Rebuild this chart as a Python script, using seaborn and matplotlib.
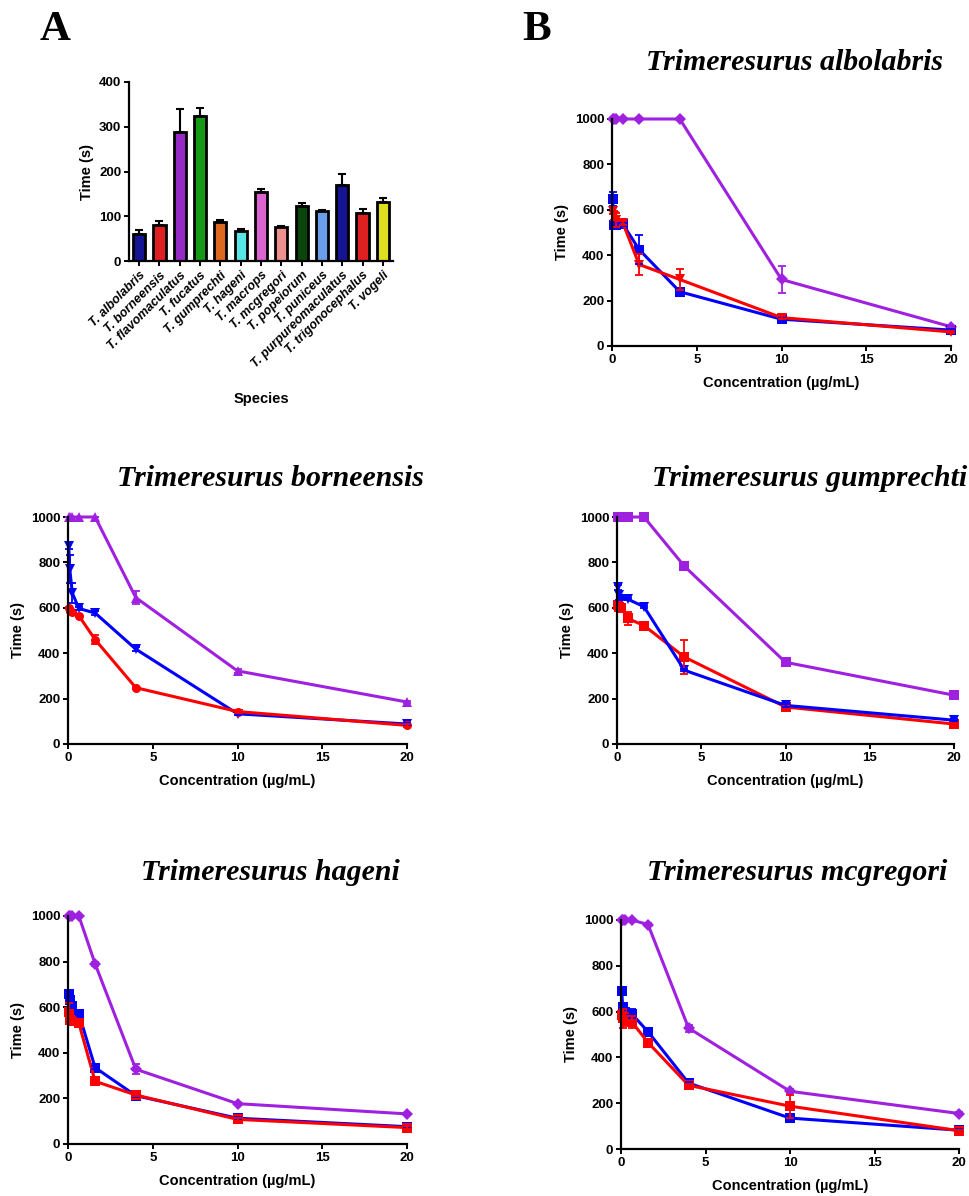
import matplotlib
matplotlib.use("Agg")
import matplotlib.pyplot as plt
import seaborn as sns
import numpy as np
import pandas as pd

# ---- panel A: clotting time per species ----
species = ["T. albolabris", "T. borneensis", "T. flavomaculatus", "T. fucatus",
           "T. gumprechti", "T. hageni", "T. macrops", "T. mcgregori",
           "T. popeiorum", "T. puniceus", "T. purpureomaculatus",
           "T. trigonocephalus", "T. vogeli"]
mean_time = [60, 80, 289, 325, 88, 68, 155, 77, 122, 112, 170, 108, 131]
sem_time = [10, 9, 51, 18, 3, 3, 5, 2, 7, 3, 25, 9, 9]
bar_colors = ["#0000A8", "#FF0000", "#A010E0", "#00B000", "#FF6000", "#40FFFF",
              "#F050E0", "#FF8080", "#005000", "#5599FF", "#0000A8", "#FF0000", "#FFFF00"]

# ---- panel B: concentration-response ----
conc = [0.04096, 0.1024, 0.256, 0.64, 1.6, 4, 10, 20]

alb_purple = [1000, 1000, 1000, 1000, 1000, 1000, 293, 85]
alb_purple_err = [0, 0, 0, 0, 0, 0, 60, 5]
alb_blue = [647, 531, 531, 537, 425, 239, 118, 70]
alb_blue_err = [30, 10, 10, 10, 62, 15, 8, 5]
alb_red = [596, 574, 556, 542, 359, 293, 125, 62]
alb_red_err = [15, 20, 30, 10, 45, 45, 8, 5]

bor_purple = [1000, 1000, 1000, 1000, 1000, 645, 322, 185]
bor_purple_err = [0, 0, 0, 0, 0, 30, 8, 5]
bor_blue = [873, 771, 665, 597, 577, 418, 133, 88]
bor_blue_err = [15, 60, 45, 8, 8, 8, 5, 5]
bor_red = [598, 588, 580, 565, 460, 248, 143, 82]
bor_red_err = [5, 5, 5, 5, 20, 5, 5, 5]

gum_purple = [1000, 1000, 1000, 1000, 1000, 783, 360, 215]
gum_purple_err = [0, 0, 0, 0, 0, 8, 8, 5]
gum_blue = [690, 655, 640, 638, 605, 325, 170, 105]
gum_blue_err = [10, 20, 5, 5, 5, 5, 5, 5]
gum_red = [612, 605, 600, 553, 522, 383, 163, 88]
gum_red_err = [15, 15, 10, 30, 8, 75, 5, 5]

hag_purple = [1000, 1000, 1000, 1000, 790, 328, 177, 132]
hag_purple_err = [0, 0, 0, 0, 8, 22, 5, 5]
hag_blue = [660, 630, 605, 572, 335, 212, 113, 76]
hag_blue_err = [10, 10, 10, 10, 8, 5, 5, 5]
hag_red = [578, 545, 540, 530, 275, 215, 108, 72]
hag_red_err = [40, 20, 15, 15, 8, 5, 5, 5]

mcg_purple = [1000, 1000, 1000, 1000, 980, 528, 252, 155]
mcg_purple_err = [0, 0, 0, 0, 8, 15, 8, 5]
mcg_blue = [690, 620, 600, 590, 512, 288, 135, 82]
mcg_blue_err = [10, 10, 10, 20, 8, 5, 8, 5]
mcg_red = [585, 570, 565, 555, 465, 278, 187, 80]
mcg_red_err = [15, 40, 30, 25, 8, 5, 50, 5]

PURPLE = "#A020E0"
BLUE = "#0000FF"
RED = "#FF0000"

W, H = 969, 1196


def rect(l, r, t, b):
    return [l / W, 1 - b / H, (r - l) / W, (b - t) / H]


sns.set_style("ticks")
plt.rcParams["font.family"] = ["Liberation Sans", "DejaVu Sans"]
plt.rcParams["font.weight"] = "bold"
plt.rcParams["axes.labelweight"] = "bold"
plt.rcParams["axes.linewidth"] = 1.6
plt.rcParams["axes.edgecolor"] = "black"
plt.rcParams["axes.labelcolor"] = "black"
plt.rcParams["text.color"] = "black"
plt.rcParams["xtick.color"] = "black"
plt.rcParams["ytick.color"] = "black"
plt.rcParams["xtick.major.width"] = 1.4
plt.rcParams["ytick.major.width"] = 1.4
plt.rcParams["xtick.major.size"] = 3.5
plt.rcParams["ytick.major.size"] = 3.5
plt.rcParams["xtick.major.pad"] = 2.5
plt.rcParams["ytick.major.pad"] = 2

fig = plt.figure(figsize=(W / 100, H / 100), dpi=100)

# ---- bar chart ----
axA = fig.add_axes(rect(129, 393, 82, 261))
sns.barplot(x=species, y=mean_time, hue=species, palette=bar_colors, legend=False,
            edgecolor="black", linewidth=2, width=0.6, ax=axA)
axA.errorbar(np.arange(len(species)), mean_time,
             yerr=[np.zeros(len(species)), sem_time], fmt="none",
             ecolor="black", elinewidth=1.5, capsize=3, capthick=1.5)
axA.set_ylim(0, 400)
axA.set_xlim(-0.5, len(species) - 0.5)
axA.set_yticks([0, 100, 200, 300, 400])
axA.set_xticks(np.arange(len(species)))
axA.set_xticklabels(species, rotation=45, ha="right", rotation_mode="anchor",
                    fontsize=9, fontstyle="italic", fontweight="bold")
axA.tick_params(axis="y", labelsize=9.5)
axA.set_ylabel("Time (s)", fontsize=10.5)
axA.set_xlabel("Species", fontsize=10.5, labelpad=16)
sns.despine(ax=axA)


def draw_curves(ax, curves):
    rows = []
    for name, vals, errs, color, marker in curves:
        for c, v in zip(conc, vals):
            rows.append({"conc": c, "time": v, "series": name})
    df = pd.DataFrame(rows)
    names = [c[0] for c in curves]
    sns.lineplot(data=df, x="conc", y="time", hue="series", style="series",
                 hue_order=names, style_order=names,
                 palette={c[0]: c[3] for c in curves},
                 markers={c[0]: c[4] for c in curves}, dashes=False,
                 markersize=6.5, markeredgewidth=0, linewidth=2.2,
                 legend=False, errorbar=None, clip_on=False, ax=ax)
    for name, vals, errs, color, marker in curves:
        ax.errorbar(conc, vals, yerr=errs, fmt="none", ecolor=color,
                    elinewidth=1.3, capsize=3, capthick=1.3, clip_on=False)
    ax.set_xlim(0, 20)
    ax.set_ylim(0, 1000)
    ax.set_xticks([0, 5, 10, 15, 20])
    ax.set_yticks([0, 200, 400, 600, 800, 1000])
    ax.tick_params(labelsize=9.5)
    ax.set_xlabel("Concentration (µg/mL)", fontsize=10.5, labelpad=7)
    ax.set_ylabel("Time (s)", fontsize=10.5, labelpad=4)
    sns.despine(ax=ax)


panels = [
    ("Trimeresurus albolabris", rect(612, 951, 119, 346), (795, 62),
     [("purple", alb_purple, alb_purple_err, PURPLE, "D"),
      ("blue", alb_blue, alb_blue_err, BLUE, "s"),
      ("red", alb_red, alb_red_err, RED, "v")]),
    ("Trimeresurus borneensis", rect(68, 407, 517, 744), (270, 478),
     [("purple", bor_purple, bor_purple_err, PURPLE, "^"),
      ("blue", bor_blue, bor_blue_err, BLUE, "v"),
      ("red", bor_red, bor_red_err, RED, "o")]),
    ("Trimeresurus gumprechti", rect(617, 954, 517, 744), (810, 478),
     [("purple", gum_purple, gum_purple_err, PURPLE, "s"),
      ("red", gum_red, gum_red_err, RED, "s"),
      ("blue", gum_blue, gum_blue_err, BLUE, "v")]),
    ("Trimeresurus hageni", rect(68, 407, 916, 1144), (270, 872),
     [("purple", hag_purple, hag_purple_err, PURPLE, "D"),
      ("blue", hag_blue, hag_blue_err, BLUE, "s"),
      ("red", hag_red, hag_red_err, RED, "s")]),
    ("Trimeresurus mcgregori", rect(621, 959, 920, 1149), (797, 872),
     [("purple", mcg_purple, mcg_purple_err, PURPLE, "D"),
      ("blue", mcg_blue, mcg_blue_err, BLUE, "s"),
      ("red", mcg_red, mcg_red_err, RED, "s")]),
]

for title, r, (tx, ty), curves in panels:
    ax = fig.add_axes(r)
    draw_curves(ax, curves)
    fig.text(tx / W, 1 - ty / H, title, ha="center", va="center",
             fontsize=21.5, fontstyle="italic", fontweight="bold",
             family="Liberation Serif")

fig.text(55 / W, 1 - 30 / H, "A", ha="center", va="center", fontsize=31,
         fontweight="bold", family="Liberation Serif")
fig.text(537 / W, 1 - 30 / H, "B", ha="center", va="center", fontsize=31,
         fontweight="bold", family="Liberation Serif")

fig.savefig("out.png", dpi=100, facecolor="white")
